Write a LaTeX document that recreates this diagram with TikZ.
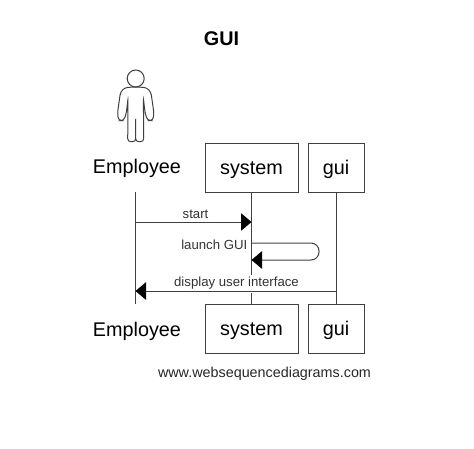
\documentclass[tikz,border=0pt]{standalone}
\usepackage{fontspec}
\setmainfont{Liberation Sans}
\usetikzlibrary{positioning, arrows.meta}

\begin{document}
\begin{tikzpicture}[x=1pt,y=-1pt]
	\tikzstyle{partbox}=[draw=black!75,line width=1pt,minimum height=49pt,inner sep=0pt,text depth=2pt,text height=16.5pt,font=\fontsize{19.8}{22}\selectfont]
	\tikzstyle{actorname}=[inner sep=0pt,font=\fontsize{19.8}{22}\selectfont]
	\tikzstyle{msgline}=[black!75,line width=1pt,-{Triangle[length=10.5pt,width=17.5pt,color=black]}]
	\tikzstyle{lifeline}=[black!75,line width=1pt]
	\tikzstyle{msgtext}=[inner sep=0pt,text=black!80,font=\fontsize{13.2}{14}\selectfont]
	\useasboundingbox (0,0) rectangle (474,448);
	\node[inner sep=0pt,font=\bfseries\fontsize{19.8}{22}\selectfont](title) at (221.5,39) {GUI};
	% actor
	\node[circle,draw=black!75,line width=1pt,minimum size=17pt,inner sep=0pt](head) at (135.7,78.5) {};
	\draw[black!75,line width=1pt,rounded corners=3pt] (135.7,87) -- (125,87.5) -- (120.5,92) -- (117.5,113) -- (118.5,120.5) -- (124,120.5) -- (126.5,112) -- (128,98) -- (127.7,141.7) -- (135.7,141.7) -- (135.7,117)
		-- (135.7,141.7) -- (143.7,141.7) -- (143.4,98) -- (144.9,112) -- (147.4,120.5) -- (152.9,120.5) -- (153.9,113) -- (150.9,92) -- (146.4,87.5) -- cycle;
	% participants
	\node[actorname](empTop) at (137,169) {\strut Employee};
	\node[partbox,minimum width=93pt](sysTop) at (251.5,167.5) {system};
	\node[partbox,minimum width=56pt](guiTop) at (336,167.5) {gui};
	\node[actorname](empBot) at (137,332) {\strut Employee};
	\node[partbox,minimum width=93pt](sysBot) at (251.5,328.5) {system};
	\node[partbox,minimum width=56pt](guiBot) at (336,328.5) {gui};
	% lifelines
	\coordinate (empA) at (135.5,192);
	\coordinate (empB) at (135.5,304);
	\draw[lifeline](empA) -- (empB);
	\draw[lifeline](sysTop) -- (sysBot);
	\draw[lifeline](guiTop) -- (guiBot);
	% messages
	\coordinate (startA) at (135.5,222);
	\coordinate (startB) at (251.5,222);
	\coordinate (launchA) at (251.5,243);
	\coordinate (launchB) at (251.5,260);
	\coordinate (displayA) at (336,291);
	\coordinate (displayB) at (135.5,291);
	\node[msgtext,fill=white,minimum height=18pt,minimum width=125pt](displayLabel) at (236.5,283.5) {display user interface};
	\node[msgtext](startLabel) at (195.5,214) {start};
	\node[msgtext,anchor=east](launchLabel) at (247.5,244.5) {launch GUI};
	\draw[msgline](startA) -- (startB);
	\draw[msgline,rounded corners=8pt](launchA) -- (319,243) -- (319,260) -- (launchB);
	\draw[msgline](displayA) -- (displayB);
	\node[inner sep=0pt,text=black!85,font=\fontsize{14.35}{16}\selectfont](credit) at (264.5,374) {www.websequencediagrams.com};
\end{tikzpicture}
\end{document}
